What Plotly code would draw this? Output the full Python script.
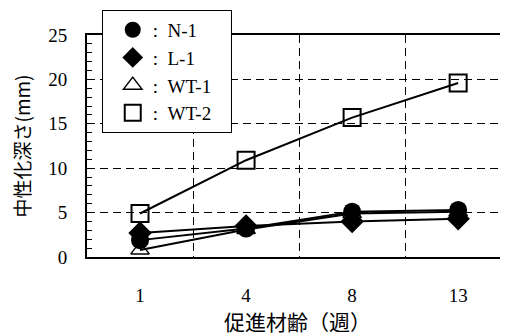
import plotly.graph_objects as go

weeks = ["1", "4", "8", "13"]
series_names = ["N-1", "L-1", "WT-1", "WT-2"]
n1 = [1.9, 3.2, 5.1, 5.3]
l1 = [2.7, 3.5, 4.0, 4.3]
wt1 = [0.8, 3.1, 4.9, 5.1]
wt2 = [4.9, 10.9, 15.7, 19.6]
y_ticks = [0, 5, 10, 15, 20, 25]

xpos = list(range(len(weeks)))

styles = {
    "WT-2": dict(symbol="square-open", size=17, line=dict(width=2, color="black"), color="black"),
    "WT-1": dict(symbol="triangle-up-open", size=16, line=dict(width=1.5, color="black"), color="black"),
    "L-1": dict(symbol="diamond", size=18, color="black"),
    "N-1": dict(symbol="circle", size=18, color="black"),
}
data = {"N-1": n1, "L-1": l1, "WT-1": wt1, "WT-2": wt2}
draw_order = ["WT-2", "WT-1", "L-1", "N-1"]

fig = go.Figure()
for name in draw_order:
    fig.add_trace(go.Scatter(x=xpos, y=data[name], mode="lines",
                             line=dict(color="black", width=2), showlegend=False,
                             hoverinfo="skip"))
for name in draw_order:
    fig.add_trace(go.Scatter(x=xpos, y=data[name], mode="markers",
                             marker=styles[name],
                             name=":\u00a0\u00a0" + name + "\u00a0\u00a0\u00a0",
                             legendrank=series_names.index(name) + 1))

serif = "Times New Roman, Liberation Serif, DejaVu Serif, serif"
cjk = "Noto Sans CJK JP"

fig.update_layout(
    width=508, height=336,
    margin=dict(l=79, r=8, t=27, b=87, autoexpand=False),
    plot_bgcolor="white", paper_bgcolor="white",
    font=dict(family=serif, size=19, color="black"),
    showlegend=True,
    legend=dict(x=0.035, y=1.113, xanchor="left", yanchor="top",
                bgcolor="white", bordercolor="black", borderwidth=1,
                font=dict(family=serif, size=19), tracegroupgap=0,
                itemwidth=30, indentation=10),
    xaxis=dict(range=[-0.5, 3.47], tickmode="array", tickvals=xpos, ticktext=weeks,
               showline=True, linecolor="black", linewidth=2, mirror=True,
               showgrid=False, zeroline=False, ticks="", automargin=False,
               ticklabelstandoff=20,
               tickfont=dict(family=serif, size=19),
               minor=dict(tickmode="array", tickvals=[0.5, 1.5, 2.5], showgrid=True,
                          gridcolor="black", gridwidth=1, griddash="8px,5px", ticks=""),
               title=dict(text="促進材齢（週）", font=dict(family=cjk, size=21), standoff=2)),
    yaxis=dict(range=[0, 25], tickmode="array", tickvals=y_ticks,
               showline=True, linecolor="black", linewidth=2, automargin=False,
               ticks="inside", ticklen=6, tickcolor="black", tickwidth=1,
               showgrid=True, gridcolor="black", gridwidth=1, griddash="8px,5px",
               zeroline=False, ticklabelstandoff=14,
               tickfont=dict(family=serif, size=19),
               minor=dict(dtick=1, ticks="inside", ticklen=5, tickcolor="black", showgrid=False),
               title=dict(text="中性化深さ(mm)", font=dict(family=cjk, size=19), standoff=16)),
)

fig.write_html("out.html")
